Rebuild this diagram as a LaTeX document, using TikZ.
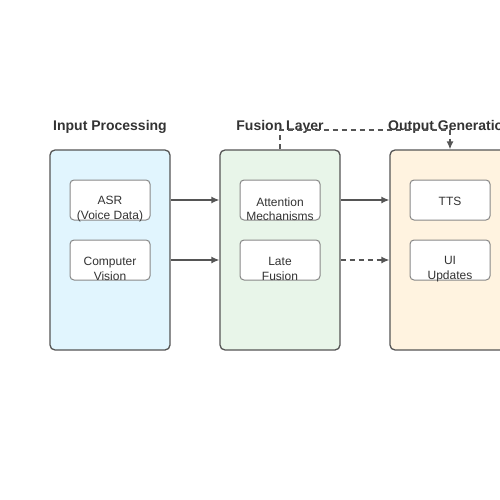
\documentclass[tikz,border=0pt]{standalone}
\usepackage{fontspec}
\setmainfont{Liberation Sans}
\usetikzlibrary{positioning,arrows.meta}
\definecolor{inkgray}{HTML}{555555}
\definecolor{txtgray}{HTML}{333333}
\definecolor{boxgray}{HTML}{888888}
\definecolor{inblue}{HTML}{E1F5FE}
\definecolor{fusgreen}{HTML}{E8F5E9}
\definecolor{outorange}{HTML}{FFF3E0}
\tikzset{
  stage/.style={draw=inkgray,line width=1.3pt,rounded corners=5pt,minimum width=120pt,minimum height=200pt},
  inbox/.style={draw=boxgray,line width=1pt,fill=white,rounded corners=4pt,minimum width=80pt,minimum height=40pt},
  intext/.style={text=txtgray,font=\fontsize{12}{14.5}\selectfont,align=center,inner sep=0pt},
  stitle/.style={text=txtgray,font=\fontsize{14}{16}\selectfont\bfseries},
  flow/.style={draw=inkgray,line width=1.3pt,-{Latex[length=8pt,width=7pt]}},
  flowdash/.style={flow,dash pattern=on 5pt off 4pt}
}
\begin{document}
\begin{tikzpicture}[x=1pt,y=-1pt]
		\clip (0,0) rectangle (500,500);
		\useasboundingbox (0,0) rectangle (500,500);
		% stages
		\node[stage,fill=inblue] (input) at (110,250) {};
		\node[stage,fill=fusgreen] (fusion) at (280,250) {};
		\node[stage,fill=outorange] (output) at (450,250) {};
		\node[stitle] (inputtitle) at (110,126.5) {Input Processing};
		\node[stitle] (fusiontitle) at (280,126.5) {Fusion Layer};
		\node[stitle] (outputtitle) at (450,126.5) {Output Generation};
		% inner boxes
		\node[inbox] (asr) at (110,200) {};
		\node[inbox] (vision) at (110,260) {};
		\node[inbox] (attn) at (280,200) {};
		\node[inbox] (late) at (280,260) {};
		\node[inbox] (tts) at (450,200) {};
		\node[inbox] (ui) at (450,260) {};
		\node[intext] (asrtext) at ([yshift=-9pt]asr.center) {ASR\\(Voice Data)};
		\node[intext] (visiontext) at ([yshift=-9pt]vision.center) {Computer\\Vision};
		\node[intext] (attntext) at ([yshift=-9pt]attn.center) {Attention\\Mechanisms};
		\node[intext] (latetext) at ([yshift=-9pt]late.center) {Late\\Fusion};
		\node[intext] (ttstext) at ([yshift=-1pt]tts.center) {TTS};
		\node[intext] (uitext) at ([yshift=-9pt]ui.center) {UI\\Updates};
		% connectors
		\coordinate (fb) at (280,130);
		\coordinate (fbend) at (450,130);
		\draw[flow] (input.east |- asr) -- (fusion.west |- asr);
		\draw[flow] (input.east |- vision) -- (fusion.west |- vision);
		\draw[flow] (fusion.east |- attn) -- (output.west |- attn);
		\draw[flowdash] (fusion.east |- late) -- (output.west |- late);
		\draw[flowdash] (fusion.north) -- (fb) -- (fbend) -- (output.north);
\end{tikzpicture}
\end{document}
